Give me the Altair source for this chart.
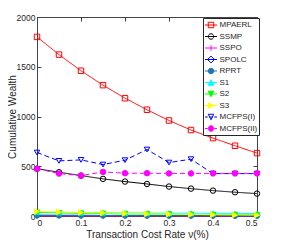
import altair as alt
import pandas as pd

rates = [0, 0.05, 0.1, 0.15, 0.2, 0.25, 0.3, 0.35, 0.4, 0.45, 0.5]

series_names = ["MPAERL", "SSMP", "SSPO", "SPOLC", "RPRT", "S1", "S2", "S3", "MCFPS(I)", "MCFPS(II)"]

mpaerl = [1800, 1622, 1460, 1315, 1184, 1068, 960, 864, 783, 706, 632]
ssmp = [475, 440, 406, 373, 346, 322, 296, 275, 255, 239, 225]
sspo = [2, 2, 2, 2, 2, 2, 2, 1, 1, 1, 1]
spolc = [8, 7, 7, 6, 6, 5, 5, 5, 4, 4, 4]
rprt = [6, 6, 5, 5, 5, 4, 4, 4, 4, 3, 3]
s1 = [38, 36, 34, 33, 31, 30, 29, 28, 27, 26, 25]
s2 = [35, 31, 28, 25, 22, 20, 18, 16, 14, 13, 12]
s3 = [45, 40, 35, 30, 26, 22, 19, 16, 13, 11, 9]
mcfps1 = [638, 554, 564, 517, 561, 668, 537, 571, 426, 426, 426]
mcfps2 = [475, 426, 406, 443, 430, 430, 428, 428, 428, 428, 428]

all_values = [mpaerl, ssmp, sspo, spolc, rprt, s1, s2, s3, mcfps1, mcfps2]

colors = ["#FF0000", "#000000", "#FF00FF", "#0000FF", "#1F77B4",
          "#00FFFF", "#00FF00", "#FFFF00", "#0000FF", "#FF00FF"]
fills = ["transparent", "transparent", "transparent", "transparent", "#1F77B4",
         "#00FFFF", "#00FF00", "#FFFF00", "transparent", "#FF00FF"]
shapes = ["square", "circle", "M-1,0L1,0M0,-1L0,1", "diamond", "circle",
          "triangle-up", "triangle-down", "triangle-right", "triangle-down", "circle"]
dashes = [[1, 0]] * 8 + [[5, 3], [5, 3]]

# legend glyphs: line segment + marker (unit = half the legend symbol size)
h = 0.55
SOLID = "M-1.2,0L1.2,0"
DASHED = "M-1.2,0L-0.65,0M-0.35,0L0.35,0M0.65,0L1.2,0"
M_SQUARE = f"M{-h},{-h}L{h},{-h}L{h},{h}L{-h},{h}Z"
M_CIRCLE = f"M{h},0A{h},{h} 0 1,1 {-h},0A{h},{h} 0 1,1 {h},0Z"
M_PLUS = f"M0,{-h}L0,{h}"
M_DIAMOND = f"M0,{-h*1.25}L{h*1.25},0L0,{h*1.25}L{-h*1.25},0Z"
M_TUP = f"M0,{-h}L{h},{h}L{-h},{h}Z"
M_TDOWN = f"M0,{h}L{h},{-h}L{-h},{-h}Z"
M_TRIGHT = f"M{h},0L{-h},{-h}L{-h},{h}Z"
legend_glyphs = [SOLID + M_SQUARE, SOLID + M_CIRCLE, SOLID + M_PLUS, SOLID + M_DIAMOND,
                 SOLID + M_CIRCLE, SOLID + M_TUP, SOLID + M_TDOWN, SOLID + M_TRIGHT,
                 DASHED + M_TDOWN, DASHED + M_CIRCLE]

rows = []
for name, vals in zip(series_names, all_values):
    for r, v in zip(rates, vals):
        rows.append({"rate": r, "wealth": v, "series": name})
df = pd.DataFrame(rows)

FONT = "Liberation Sans"
TXT = "#262626"

xscale = alt.Scale(domain=[0, 0.5], nice=False)
yscale = alt.Scale(domain=[0, 2000], nice=False)

x_bottom = alt.X("rate:Q", scale=xscale,
                 axis=alt.Axis(orient="bottom", values=[0, 0.1, 0.2, 0.3, 0.4, 0.5],
                               format="~g", offset=-4, tickSize=4, domain=False, grid=False,
                               labelPadding=2, title="Transaction Cost Rate ν(%)",
                               titlePadding=3, tickColor="#444"))
y_left = alt.Y("wealth:Q", scale=yscale,
               axis=alt.Axis(orient="left", values=[0, 500, 1000, 1500, 2000],
                             format="d", offset=-4, tickSize=4, domain=False, grid=False,
                             labelPadding=2, title="Cumulative Wealth",
                             titlePadding=1, titleBaseline="alphabetic", tickColor="#444"))

lines = alt.Chart(df).mark_line(strokeWidth=1).encode(
    x=x_bottom, y=y_left,
    color=alt.Color("series:N", sort=series_names,
                    scale=alt.Scale(domain=series_names, range=colors), legend=None),
    strokeDash=alt.StrokeDash("series:N", sort=series_names,
                              scale=alt.Scale(domain=series_names, range=dashes), legend=None),
    order=alt.Order("rate:Q"))

points = alt.Chart(df).mark_point(filled=False, size=30, strokeWidth=1, opacity=1).encode(
    x=alt.X("rate:Q", scale=xscale, axis=None),
    y=alt.Y("wealth:Q", scale=yscale, axis=None),
    color=alt.Color("series:N", sort=series_names,
                    scale=alt.Scale(domain=series_names, range=colors), legend=None),
    shape=alt.Shape("series:N", sort=series_names,
                    scale=alt.Scale(domain=series_names, range=shapes), legend=None),
    fill=alt.Fill("series:N", sort=series_names,
                  scale=alt.Scale(domain=series_names, range=fills), legend=None),
)

leg = alt.Legend(orient="none", legendX=166, legendY=1, title=None,
                 symbolSize=100, symbolStrokeWidth=1, padding=1.5,
                 symbolOffset=1, labelOffset=3, rowPadding=0.5,
                 labelFontSize=8, labelFont=FONT, labelColor=TXT,
                 strokeColor="#262626", fillColor="white")

legend_layer = alt.Chart(df).transform_filter("datum.rate < 0").mark_point(
    filled=False, strokeWidth=1, opacity=1).encode(
    x=alt.X("rate:Q", scale=xscale, axis=None),
    y=alt.Y("wealth:Q", scale=yscale, axis=None),
    color=alt.Color("series:N", sort=series_names,
                    scale=alt.Scale(domain=series_names, range=colors), legend=leg),
    shape=alt.Shape("series:N", sort=series_names,
                    scale=alt.Scale(domain=series_names, range=legend_glyphs), legend=leg),
    fill=alt.Fill("series:N", sort=series_names,
                  scale=alt.Scale(domain=series_names, range=fills), legend=leg),
)

frame = alt.Chart(df).mark_point(opacity=0).encode(
    x=alt.X("rate:Q", scale=xscale,
            axis=alt.Axis(orient="top", values=[0, 0.1, 0.2, 0.3, 0.4, 0.5],
                          offset=-4, tickSize=4, domain=False, grid=False,
                          labels=False, title=None, tickColor="#444")),
    y=alt.Y("wealth:Q", scale=yscale,
            axis=alt.Axis(orient="right", values=[0, 500, 1000, 1500, 2000],
                          offset=-4, tickSize=4, domain=False, grid=False,
                          labels=False, title=None, tickColor="#444")),
)

chart = alt.layer(lines, points, legend_layer, frame).resolve_axis(
    x="independent", y="independent"
).resolve_scale(
    color="independent", shape="independent", fill="independent", strokeDash="independent"
).properties(
    width=220, height=199,
    autosize=alt.AutoSizeParams(type="none"),
    padding={"left": 29, "top": 9, "right": 20, "bottom": 28},
).configure_view(stroke="#444", strokeWidth=1).configure_axis(
    labelFont=FONT, titleFont=FONT, labelFontSize=8.5, titleFontSize=10,
    labelColor=TXT, titleColor=TXT, titleFontWeight="normal"
).configure_legend(labelFont=FONT, labelColor=TXT)

chart.save("out.html", embed_options={"renderer": "svg", "actions": False})
